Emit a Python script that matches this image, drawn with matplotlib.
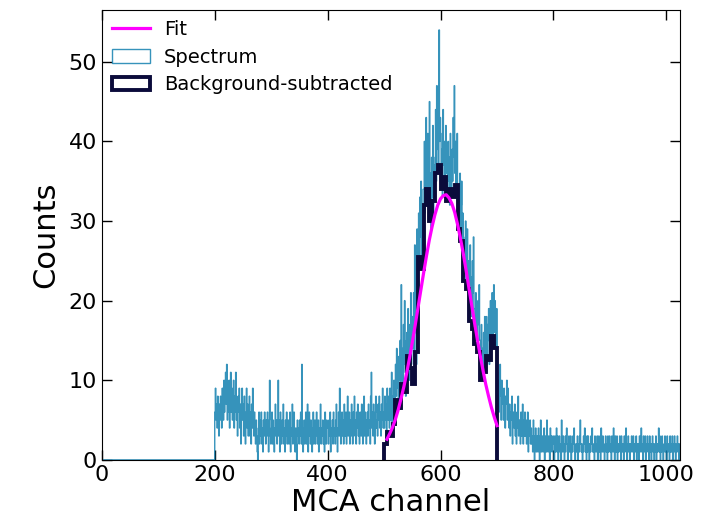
import numpy as np
import matplotlib
matplotlib.use("Agg")
import matplotlib.pyplot as plt

# spectrum counts per MCA channel (channels 0-199 are empty)
first_channel = 200
spec_200 = [6, 9, 5, 7, 4, 8, 6, 3, 7, 5, 8, 6, 4, 9, 7, 5, 10, 6, 8, 11,
            7, 12, 5, 9, 6, 10, 4, 8, 11, 6, 9, 5, 7, 10, 4, 8, 6, 11, 5, 7,
            3, 8, 6, 9, 4, 7, 2, 6, 9, 5, 7, 3, 8, 5, 2, 6, 9, 4, 7, 3,
            5, 8, 3, 6, 2, 7, 4, 9, 5, 3, 6, 4, 2, 5, 3, 1, 0, 4, 6, 2,
            5, 3, 6, 2, 4, 1, 5, 3, 6, 4, 2, 5, 3, 6, 4, 1, 5, 10, 3, 2]
spec_300 = [4, 6, 2, 5, 3, 1, 4, 7, 3, 5, 2, 4, 10, 3, 5, 1, 6, 4, 2, 5,
            3, 7, 2, 4, 1, 5, 3, 6, 2, 4, 5, 2, 3, 6, 1, 4, 3, 7, 2, 4,
            6, 3, 1, 4, 2, 0, 5, 3, 4, 2, 5, 3, 6, 2, 12, 4, 1, 3, 5, 2,
            4, 6, 2, 3, 7, 1, 4, 6, 3, 2, 5, 3, 1, 4, 6, 2, 3, 5, 2, 4,
            6, 3, 2, 5, 1, 4, 3, 7, 2, 4, 3, 5, 2, 4, 1, 6, 3, 2, 5, 4]
spec_400 = [4, 2, 5, 3, 6, 1, 4, 3, 5, 2, 6, 3, 4, 2, 5, 7, 3, 1, 4, 6,
            3, 9, 5, 2, 4, 6, 3, 5, 2, 7, 4, 3, 6, 2, 5, 8, 3, 4, 6, 2,
            5, 3, 7, 4, 2, 6, 3, 8, 4, 5, 2, 6, 4, 7, 3, 5, 2, 6, 4, 3,
            7, 4, 2, 5, 8, 3, 6, 4, 2, 5, 6, 3, 7, 4, 5, 2, 8, 11, 4, 6,
            3, 7, 5, 2, 6, 8, 4, 5, 3, 7, 5, 8, 4, 6, 3, 7, 5, 9, 4, 6]
spec_500 = [4, 8, 5, 7, 3, 9, 6, 5, 8, 4, 9, 5, 7, 11, 4, 8, 6, 10, 5, 7,
            12, 8, 14, 9, 11, 7, 13, 10, 15, 9, 22, 10, 14, 9, 17, 12, 20, 11, 8, 15,
            16, 11, 19, 13, 10, 17, 14, 21, 12, 15, 18, 14, 21, 13, 27, 16, 19, 12, 29, 17,
            26, 31, 24, 33, 28, 35, 25, 30, 27, 34, 34, 40, 31, 38, 43, 33, 37, 41, 32, 39,
            45, 31, 36, 29, 38, 33, 42, 30, 37, 35, 38, 44, 35, 47, 39, 42, 36, 54, 40, 43]
spec_600 = [41, 35, 39, 33, 44, 37, 40, 34, 38, 42, 36, 39, 33, 40, 35, 38, 32, 41, 37, 34,
            39, 35, 43, 38, 47, 36, 40, 33, 37, 41, 34, 29, 33, 30, 36, 28, 32, 35, 27, 31,
            28, 23, 27, 24, 30, 22, 26, 29, 21, 25, 24, 19, 27, 20, 23, 18, 25, 21, 28, 19,
            19, 15, 21, 16, 18, 14, 20, 17, 22, 15, 15, 11, 17, 12, 14, 10, 16, 13, 18, 12,
            14, 18, 13, 17, 15, 19, 12, 16, 20, 14, 17, 21, 15, 19, 22, 16, 20, 18, 14, 19]
spec_700 = [11, 7, 10, 6, 9, 12, 8, 5, 10, 7, 8, 5, 9, 6, 4, 8, 7, 10, 5, 9,
            6, 4, 7, 3, 6, 5, 8, 2, 5, 6, 4, 7, 3, 5, 2, 6, 4, 8, 3, 5,
            5, 2, 6, 3, 4, 7, 2, 5, 3, 6, 3, 5, 2, 4, 6, 1, 4, 3, 5, 2,
            4, 2, 3, 1, 5, 2, 0, 3, 4, 1, 2, 3, 1, 4, 2, 0, 3, 5, 1, 2,
            3, 1, 2, 4, 0, 3, 2, 1, 5, 2, 1, 3, 2, 0, 4, 2, 3, 1, 2, 3]
spec_800 = [2, 0, 3, 1, 2, 4, 1, 3, 0, 2, 3, 1, 2, 0, 5, 2, 1, 3, 2, 0,
            1, 3, 2, 4, 1, 0, 2, 3, 1, 2, 3, 0, 2, 1, 3, 2, 4, 1, 0, 2,
            1, 2, 3, 0, 2, 1, 3, 5, 2, 1, 2, 0, 1, 3, 2, 4, 1, 2, 0, 3,
            1, 3, 2, 0, 2, 1, 3, 2, 4, 1, 2, 1, 0, 3, 2, 1, 2, 3, 0, 2,
            3, 1, 2, 0, 4, 2, 1, 3, 2, 1, 0, 2, 3, 1, 2, 0, 3, 1, 2, 3]
spec_900 = [1, 2, 0, 3, 2, 1, 4, 2, 0, 3, 2, 1, 3, 0, 2, 1, 2, 3, 1, 0,
            3, 2, 1, 2, 0, 3, 1, 2, 4, 1, 0, 2, 3, 1, 2, 0, 2, 1, 3, 2,
            1, 3, 0, 2, 1, 2, 3, 0, 2, 1, 2, 0, 3, 1, 2, 4, 1, 2, 0, 3,
            1, 2, 3, 0, 2, 1, 3, 2, 1, 0, 3, 1, 2, 0, 2, 3, 1, 2, 0, 2,
            1, 3, 0, 2, 1, 2, 4, 1, 3, 0, 2, 1, 3, 2, 0, 1, 2, 3, 1, 2,
            0, 3, 1, 2, 2, 0, 3, 1, 2, 1, 3, 0, 2, 1, 3, 2, 0, 1, 2, 3,
            1, 2, 0, 2]

# background-subtracted peak, 5-channel bins from 500 to 700
sub_start, sub_width = 500, 5
sub_counts = [2, 3.5, 3, 4.5, 7.5, 6.5, 9.5, 8.5, 13, 11.5,
              9.5, 13.5, 25.5, 24, 32, 34, 30, 32.5, 36, 37,
              34, 35.5, 32.5, 34, 33, 34.5, 29, 27.5, 22.5, 21.5,
              17.5, 16.5, 14.5, 13.5, 10, 11, 13, 12.5, 15.5, 14]

# gaussian fit curve
fit_x = [505, 510, 515, 520, 525, 530, 535, 540, 545, 550, 555, 560, 565, 570,
         575, 580, 585, 590, 595, 600, 605, 610, 615, 620, 625, 630, 635, 640,
         645, 650, 655, 660, 665, 670, 675, 680, 685, 690, 695, 700]
fit_y = [2.6, 3.3, 4.1, 5.1, 6.3, 7.7, 9.2, 10.9, 12.8, 14.8, 16.9, 19.1, 21.3, 23.5,
         25.6, 27.6, 29.3, 30.8, 32.0, 32.8, 33.2, 33.3, 32.9, 32.2, 31.1, 29.6, 27.9, 26.0,
         23.9, 21.7, 19.5, 17.3, 15.2, 13.2, 11.3, 9.5, 8.0, 6.6, 5.4, 4.3]

spectrum = np.concatenate([np.zeros(first_channel), spec_200, spec_300, spec_400,
                           spec_500, spec_600, spec_700, spec_800, spec_900])
channels = np.arange(len(spectrum))
edges = np.arange(len(spectrum) + 1)

sub_edges = sub_start + sub_width * np.arange(len(sub_counts) + 1)
sub_centres = sub_edges[:-1] + sub_width / 2

fig = plt.figure(figsize=(7.12, 5.28), dpi=100)
ax = fig.add_axes([0.143, 0.129, 0.812, 0.852])

ax.plot(fit_x, fit_y, color='#ff00ff', lw=2.3, label='Fit', zorder=3)
ax.hist(channels, bins=edges, weights=spectrum, histtype='step',
        color='#1380b0', alpha=0.85, lw=1, label='Spectrum')
ax.hist(sub_centres, bins=sub_edges, weights=sub_counts,
        histtype='step', color='#0b0b3b', lw=2.8, label='Background-subtracted')

ax.set_xlim(0, 1024)
ax.set_ylim(0, 56.5)
ax.set_xticks([0, 200, 400, 600, 800, 1000])
ax.set_yticks([0, 10, 20, 30, 40, 50])
ax.tick_params(direction='in', length=7, width=1, labelsize=16,
               top=True, right=True)
ax.set_xlabel('MCA channel', fontsize=22, labelpad=2)
ax.set_ylabel('Counts', fontsize=22, labelpad=6)

ax.legend(loc='upper left', frameon=False, fontsize=14,
          handlelength=2.0, handletextpad=0.7, borderaxespad=0.1,
          labelspacing=0.45)

fig.savefig('out.png', dpi=100)
